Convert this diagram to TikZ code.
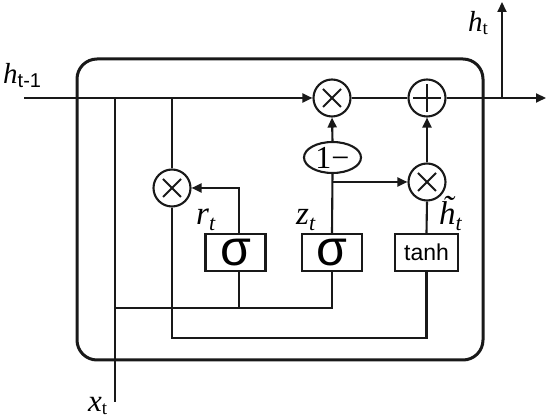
\documentclass[tikz,border=0pt]{standalone}
\usepackage{fontspec}
\setmainfont{Liberation Serif}
\newfontfamily\sansf{Liberation Sans}
\usetikzlibrary{arrows.meta,shapes.geometric,calc}
\begin{document}
\begin{tikzpicture}[x=1pt,y=-1pt,
  conn/.style={line width=2.1pt,draw=black!90},
  arr/.style={conn,-{Triangle[length=10pt,width=9pt]}},
  gatebox/.style={draw=black!90,line width=2.1pt,minimum width=60pt,minimum height=37pt,inner sep=0pt,font=\sansf\fontsize{50}{50}\selectfont},
  opcircle/.style={circle,draw=black!90,line width=2.1pt,minimum size=37pt,inner sep=0pt},
  mulop/.style={opcircle,path picture={
     \draw[line width=1.8pt] ($(path picture bounding box.center)+(-9pt,-9pt)$) -- ($(path picture bounding box.center)+(9pt,9pt)$);
     \draw[line width=1.8pt] ($(path picture bounding box.center)+(-9pt,9pt)$) -- ($(path picture bounding box.center)+(9pt,-9pt)$);}},
  addop/.style={opcircle,path picture={
     \draw[line width=2.8pt] ($(path picture bounding box.center)+(-14pt,0)$) -- ($(path picture bounding box.center)+(14pt,0)$);
     \draw[line width=2.8pt] ($(path picture bounding box.center)+(0,-14pt)$) -- ($(path picture bounding box.center)+(0,14pt)$);}},
  lbl/.style={inner sep=0pt,anchor=base west},
  varfont/.style={font=\itshape\fontsize{33}{33}\selectfont}
]
\useasboundingbox (0,0) rectangle (550,419);

% outer cell
\draw[line width=3pt,draw=black!90,rounded corners=20pt] (77,59) rectangle (483,360);

% nodes
\node[gatebox] (s1) at (235.5,252.5) {σ};
\node[gatebox] (s2) at (332,252.5) {σ};
\node[gatebox,minimum width=63pt,font=\sansf\fontsize{23}{23}\selectfont] (th) at (426.5,252.5) {tanh};
\node[mulop] (m1) at (172,188) {};
\node[mulop] (m2) at (332,98) {};
\node[addop] (p) at (427,98) {};
\node[mulop] (m3) at (427,182) {};
\node[ellipse,draw=black!90,line width=2.1pt,minimum width=57pt,minimum height=31pt,inner sep=0pt,font=\fontsize{32}{32}\selectfont] (e) at (332.5,157.5) {1−};

% coordinates
\coordinate (hin) at (24,98);
\coordinate (hout) at (546,98);
\coordinate (j5) at (502,98);
\coordinate (htop) at (502,2);
\coordinate (xin) at (115,402);
\coordinate (j1) at (115,98);
\coordinate (j2) at (172,98);
\coordinate (j3) at (115,308);
\coordinate (j4) at (172,338);
\coordinate (s1t) at ($(s1.north)+(3.5pt,0)$);
\coordinate (s1b) at ($(s1.south)+(3.5pt,0)$);

% connectors
\draw[arr] (hin) -- (m2);
\draw[conn] (m2) -- (p);
\draw[arr] (p) -- (hout);
\draw[arr] (j5) -- (htop);
\draw[conn] (xin) -- (j1);
\draw[conn] (j3) -| (s2.south);
\draw[conn] (s1b) -- (s1b |- j3);
\draw[conn] (j2) -- (m1);
\draw[conn] (m1) -- (j4) -| (th.south);
\draw[arr] (s1t) |- (m1);
\draw[conn] (s2.north) -- (e.south);
\draw[arr] (e.north) -- (m2.south);
\draw[arr] (s2.north |- m3) -- (m3);
\draw[conn] (th.north) -- (m3.south);
\draw[arr] (m3.north) -- (p.south);

% labels
\node[lbl,font=\itshape\fontsize{29}{29}\selectfont] (lh1) at (3,84) {h\raisebox{-4pt}{\sansf\upshape\fontsize{20}{20}\selectfont t-1}};
\node[lbl,font=\itshape\fontsize{29}{29}\selectfont] (lht) at (468,32) {h\raisebox{-3pt}{\upshape\fontsize{19}{19}\selectfont t}};
\node[lbl,font=\itshape\fontsize{31}{31}\selectfont] (lxt) at (88,412) {x\raisebox{-3pt}{\upshape\fontsize{19}{19}\selectfont t}};
\node[lbl,varfont] (lr) at (196,225) {r\raisebox{-6pt}{\fontsize{22}{22}\selectfont t}};
\node[lbl,varfont] (lz) at (296,225) {z\raisebox{-6pt}{\fontsize{22}{22}\selectfont t}};
\node[lbl,varfont] (lhh) at (439,225) {\~{h}\raisebox{-6pt}{\fontsize{22}{22}\selectfont t}};
\end{tikzpicture}
\end{document}
